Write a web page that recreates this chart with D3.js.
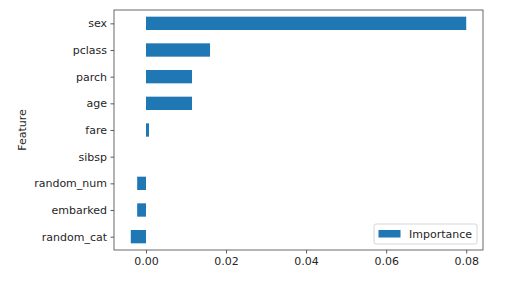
<!DOCTYPE html>
<html>
<head>
<meta charset="utf-8">
<script src="https://cdn.jsdelivr.net/npm/d3@7"></script>
<style>
  body { margin: 0; background: #fff; }
  text { font-family: "DejaVu Sans", sans-serif; fill: #262626; }
</style>
</head>
<body>
<svg id="chart" width="528" height="285"></svg>
<script>
// feature importances, bottom to top as drawn
var features = ["random_cat", "embarked", "random_num", "sibsp", "fare", "age", "parch", "pclass", "sex"];
var importance = [-0.0038, -0.0022, -0.0022, 0.0, 0.00075, 0.0115, 0.0115, 0.016, 0.080];
var xTicks = [0.00, 0.02, 0.04, 0.06, 0.08];

var margin = { top: 10, left: 114, right: 45, bottom: 35 };
var W = 528, H = 285;
var width = W - margin.left - margin.right,
    height = H - margin.top - margin.bottom;

var svg = d3.select("#chart");
var g = svg.append("g").attr("transform", "translate(" + margin.left + "," + margin.top + ")");

// 5% padding like matplotlib
var lo = d3.min(importance), hi = d3.max(importance), pad = (hi - lo) * 0.05;
var x = d3.scaleLinear().domain([lo - pad, hi + pad]).range([0, width]);
// category positions 0..n-1, limits -0.5..n-0.5
var y = d3.scaleLinear().domain([-0.5, features.length - 0.5]).range([height, 0]);
var barH = y(0) - y(0.5);

g.selectAll("rect.bar")
  .data(features)
  .enter()
  .append("rect")
  .attr("class", "bar")
  .attr("x", (d, i) => x(Math.min(0, importance[i])))
  .attr("width", (d, i) => Math.abs(x(importance[i]) - x(0)))
  .attr("y", (d, i) => y(i) - barH / 2)
  .attr("height", barH)
  .attr("fill", "#1f77b4");

// x axis
var xAxis = g.append("g")
  .attr("transform", "translate(0," + height + ")")
  .call(d3.axisBottom(x).tickValues(xTicks).tickFormat(d3.format(".2f")).tickSize(3.5).tickPadding(3.5));
// y axis
var yAxis = g.append("g")
  .call(d3.axisLeft(y).tickValues(d3.range(features.length)).tickFormat(i => features[i]).tickSize(3.5).tickPadding(3.5));

[xAxis, yAxis].forEach(a => {
  a.select(".domain").remove();
  a.selectAll("line").attr("stroke", "#333").attr("stroke-width", 0.8);
  a.selectAll("text").style("font-size", "11px").attr("fill", "#262626");
});

// frame
g.append("rect")
  .attr("x", 0).attr("y", 0).attr("width", width).attr("height", height)
  .attr("fill", "none").attr("stroke", "#444").attr("stroke-width", 0.8);

// y label
svg.append("text")
  .attr("transform", "translate(26," + (margin.top + height / 2) + ") rotate(-90)")
  .attr("text-anchor", "middle")
  .style("font-size", "11px")
  .text("Feature");

// legend
var lg = g.append("g").attr("transform", "translate(" + (width - 109) + "," + (height - 26) + ")");
lg.append("rect")
  .attr("width", 103).attr("height", 20).attr("rx", 2)
  .attr("fill", "#fff").attr("fill-opacity", 0.8)
  .attr("stroke", "#ccc").attr("stroke-width", 0.8);
lg.append("rect")
  .attr("x", 4.5).attr("y", 6).attr("width", 22).attr("height", 7.5)
  .attr("fill", "#1f77b4");
lg.append("text")
  .attr("x", 35).attr("y", 14)
  .style("font-size", "11px")
  .text("Importance");
</script>
</body>
</html>
